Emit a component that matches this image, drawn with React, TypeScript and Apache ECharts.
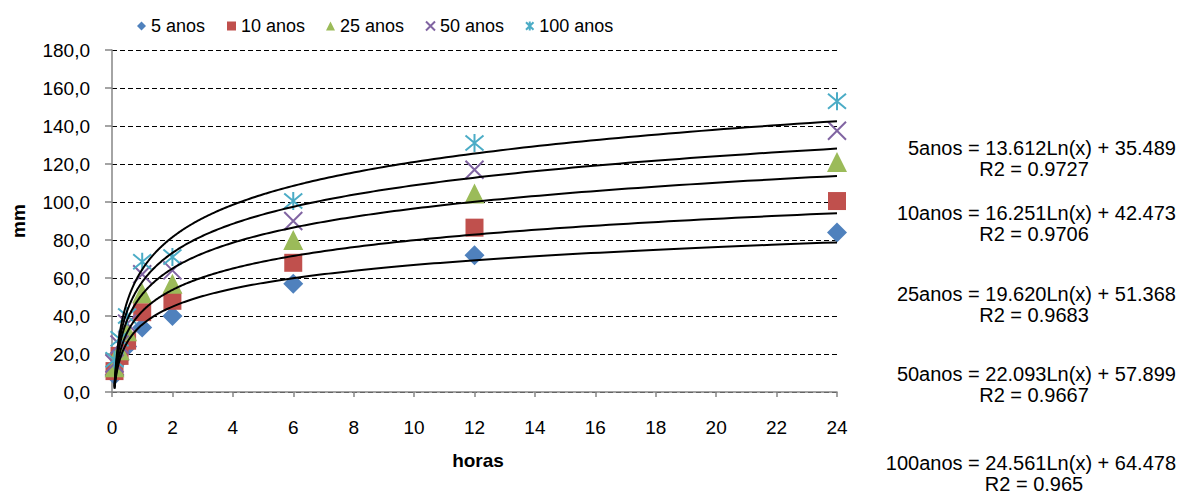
import React, { useEffect, useRef } from "react";
import * as echarts from "echarts";

// ---- data ----
const seriesNames = ["5 anos", "10 anos", "25 anos", "50 anos", "100 anos"];
const durations = [1 / 12, 0.25, 0.5, 1, 2, 6, 12, 24];
const v5 = [9, 17, 24, 34, 40, 57, 72, 84];
const v10 = [11, 19, 27, 42, 48, 68, 86.5, 100.5];
const v25 = [13, 22, 32, 52, 57, 80, 104.5, 121];
const v50 = [15, 25, 36, 62, 64, 90, 117, 137.5];
const v100 = [17, 28, 40, 68.5, 71, 100.5, 131, 153];
const seriesValues = [v5, v10, v25, v50, v100];

const trendSlope = [13.612, 16.251, 19.62, 22.093, 24.561];
const trendIntercept = [35.489, 42.473, 51.368, 57.899, 64.478];
const equationLabels = [
  "5anos = 13.612Ln(x) + 35.489",
  "10anos = 16.251Ln(x) + 42.473",
  "25anos = 19.620Ln(x) + 51.368",
  "50anos = 22.093Ln(x) + 57.899",
  "100anos = 24.561Ln(x) + 64.478",
];
const r2Labels = ["R2 = 0.9727", "R2 = 0.9706", "R2 = 0.9683", "R2 = 0.9667", "R2 = 0.965"];

// ---- styles ----
const colors = ["#4F81BD", "#C0504D", "#9BBB59", "#8064A2", "#4BACC6"];
const symbols = [
  "diamond",
  "rect",
  "triangle",
  "path://M0,0L10,10M10,0L0,10",
  "path://M0,0L10,10M10,0L0,10M5,-1L5,11",
];
const symbolSizes = [20, 18, 20, 18, 18];
const legendLefts = [137, 227, 326, 425, 525];
const eqY = [148, 213, 294, 374, 463];
const FONT = "'Liberation Sans', Arial, sans-serif";

function buildTrend(i: number): number[][] {
  const pts: number[][] = [];
  const x0 = durations[0];
  const x1 = durations[durations.length - 1];
  const n = 300;
  for (let k = 0; k <= n; k++) {
    const x = x0 * Math.pow(x1 / x0, k / n);
    pts.push([x, trendSlope[i] * Math.log(x) + trendIntercept[i]]);
  }
  return pts;
}

export default function App() {
  const ref = useRef<HTMLDivElement>(null);
  useEffect(() => {
    if (!ref.current) return;
    const chart = echarts.init(ref.current, null, { renderer: "svg" });

    const scatter = seriesNames.map((name, i) => {
      const isLine = i >= 3;
      return {
        name,
        type: "scatter",
        symbol: symbols[i],
        symbolSize: symbolSizes[i],
        z: 2,
        itemStyle: isLine
          ? { color: "rgba(0,0,0,0)", borderColor: colors[i], borderWidth: 2, opacity: 1 }
          : { color: colors[i], opacity: 1 },
        data: durations.map((d, k) => [d, seriesValues[i][k]]),
      };
    });

    const trends = seriesNames.map((name, i) => ({
      name: "trend " + name,
      type: "line",
      showSymbol: false,
      symbol: "none",
      z: 3,
      lineStyle: { color: "#000", width: 2 },
      data: buildTrend(i),
    }));

    const graphics: any[] = [
      {
        type: "text",
        x: 18,
        y: 221,
        rotation: Math.PI / 2,
        style: {
          text: "mm",
          font: `bold 19px ${FONT}`,
          fill: "#000",
          textAlign: "center",
          textVerticalAlign: "middle",
        },
      },
      {
        type: "text",
        x: 478,
        y: 460,
        style: {
          text: "horas",
          font: `bold 19px ${FONT}`,
          fill: "#000",
          textAlign: "center",
          textVerticalAlign: "middle",
        },
      },
    ];
    equationLabels.forEach((t, i) => {
      graphics.push({
        type: "text",
        x: 1176,
        y: eqY[i],
        style: { text: t, font: `20px ${FONT}`, fill: "#000", textAlign: "right", textVerticalAlign: "middle" },
      });
      graphics.push({
        type: "text",
        x: 1034,
        y: eqY[i] + 21,
        style: { text: r2Labels[i], font: `20px ${FONT}`, fill: "#000", textAlign: "center", textVerticalAlign: "middle" },
      });
    });

    chart.setOption({
      animation: false,
      backgroundColor: "#fff",
      grid: { left: 112, right: 343, top: 50, bottom: 102, containLabel: false },
      legend: seriesNames.map((name, i) => ({
        data: [name],
        left: legendLefts[i],
        top: 16,
        padding: 0,
        itemWidth: 9,
        itemHeight: 9,
        itemGap: 0,
        textStyle: { fontFamily: FONT, fontSize: 18, color: "#000", lineHeight: 20 },
        selectedMode: false,
      })),
      xAxis: {
        type: "value",
        min: 0,
        max: 24,
        interval: 2,
        axisLine: { show: true, lineStyle: { color: "#868686", width: 1.5 } },
        axisTick: { show: true, length: 5, lineStyle: { color: "#868686", width: 1.5 } },
        axisLabel: { margin: 26, fontFamily: FONT, fontSize: 19, color: "#000" },
        splitLine: { show: false },
      },
      yAxis: {
        type: "value",
        min: 0,
        max: 180,
        interval: 20,
        axisLine: { show: true, lineStyle: { color: "#868686", width: 1.5 } },
        axisTick: { show: true, length: 7, lineStyle: { color: "#868686", width: 1.5 } },
        axisLabel: {
          margin: 22,
          fontFamily: FONT,
          fontSize: 19,
          color: "#000",
          formatter: (v: number) => v.toFixed(1).replace(".", ","),
        },
        splitLine: { show: true, lineStyle: { color: "#000", type: [5, 3], width: 1 } },
      },
      graphic: graphics,
      series: [...scatter, ...trends],
    });
    return () => chart.dispose();
  }, []);
  return (
    <div
      ref={ref}
      style={{ position: "fixed", left: 0, top: 0, width: 1180, height: 494, background: "#fff" }}
    />
  );
}
